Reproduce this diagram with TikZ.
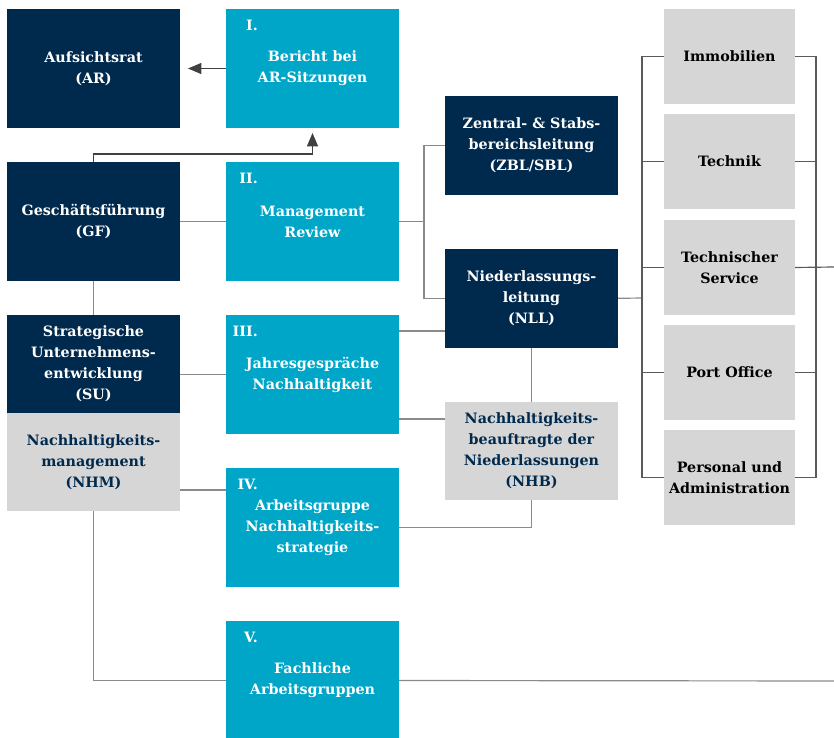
\documentclass[tikz,border=0pt]{standalone}
\usepackage{fontspec}
\setmainfont{DejaVu Serif}
\usetikzlibrary{arrows.meta}
\definecolor{navy}{HTML}{002A4D}
\definecolor{petrol}{HTML}{00A6C8}
\definecolor{lightgrey}{HTML}{D6D6D6}
\definecolor{linegrey}{HTML}{8A8A8A}
\definecolor{darkline}{HTML}{5A5A5A}
\definecolor{arrowgrey}{HTML}{404040}
\tikzstyle{box}=[anchor=north west, inner sep=0pt, outer sep=0pt, align=center, minimum width=5.19cm, font=\fontsize{12.2}{17.9}\selectfont\bfseries]
\tikzstyle{board}=[box, fill=navy, text=white, minimum height=3.57cm]
\tikzstyle{unitbox}=[box, fill=navy, text=white, minimum height=2.96cm]
\tikzstyle{forum}=[box, fill=petrol, text=white, minimum height=3.57cm]
\tikzstyle{staff}=[box, fill=lightgrey, text=navy, minimum height=2.94cm]
\tikzstyle{dept}=[box, fill=lightgrey, text=black, minimum width=3.93cm, minimum height=2.85cm]
\tikzstyle{numeral}=[anchor=north east, inner sep=0pt, text=white, font=\fontsize{12.2}{17.9}\selectfont\bfseries]
\tikzstyle{link}=[linegrey, line width=1pt]
\tikzstyle{deptlink}=[darkline, line width=1pt]
\tikzstyle{report}=[arrowgrey, line width=1pt, -{Triangle[length=0.4cm, width=0.33cm]}]

\begin{document}
\begin{tikzpicture}[x=0.03cm, y=-0.03cm]
  \useasboundingbox (0,0) rectangle (834,738);

  % left column
  \node[board] (AR) at (7,9) {Aufsichtsrat\\(AR)};
  \node[board] (GF) at (7,162) {Geschäftsführung\\(GF)};
  \node[unitbox, minimum height=2.94cm] (SU) at (7,315) {Strategische\\Unternehmens-\\entwicklung\\(SU)};
  \node[staff] (NHM) at (7,413) {Nachhaltigkeits-\\management\\(NHM)};

  % forums
  \node[forum] (I) at (226,9) {Bericht bei\\AR-Sitzungen};
  \node[forum] (II) at (226,162) {Management\\Review};
  \node[forum] (III) at (226,315) {Jahresgespräche\\Nachhaltigkeit};
  \node[forum] (IV) at (226,468) {Arbeitsgruppe\\Nachhaltigkeits-\\strategie};
  \node[forum] (V) at (226,621) {Fachliche\\Arbeitsgruppen};
  \node[numeral] (nI) at ([xshift=0.96cm, yshift=-0.33cm]I.north west) {I.};
  \node[numeral] (nII) at ([xshift=0.96cm, yshift=-0.33cm]II.north west) {II.};
  \node[numeral] (nIII) at ([xshift=0.96cm, yshift=-0.33cm]III.north west) {III.};
  \node[numeral] (nIV) at ([xshift=0.96cm, yshift=-0.33cm]IV.north west) {IV.};
  \node[numeral] (nV) at ([xshift=0.96cm, yshift=-0.33cm]V.north west) {V.};

  % management
  \node[unitbox] (ZBL) at (445,96) {Zentral- \& Stabs-\\bereichsleitung\\(ZBL/SBL)};
  \node[unitbox] (NLL) at (445,249) {Niederlassungs-\\leitung\\(NLL)};
  \node[staff] (NHB) at (445,402) {Nachhaltigkeits-\\beauftragte der\\Niederlassungen\\(NHB)};

  % departments
  \node[dept] (imm) at (664,9) {Immobilien};
  \node[dept] (tec) at (664,114) {Technik};
  \node[dept] (ts) at (664,220) {Technischer\\Service};
  \node[dept] (po) at (664,325) {Port Office};
  \node[dept] (pa) at (664,430) {Personal und\\Administration};

  % connectors
  \draw[report, shorten >=0.24cm] (I.west) -- (AR.east);
  \draw[report, shorten >=0.15cm] (GF.north) -- ++(0,-8) -| (I.south);
  \draw[link] (GF.east) -- (II.west);
  \draw[link] (GF.south) -- (SU.north);
  \draw[link] (III.west) -- (III.west -| SU.east);
  \draw[link] ([yshift=-0.66cm]IV.north west) -- ([yshift=-0.66cm]IV.north west -| NHM.east);
  \draw[link] (NHM.south) |- (V.west);
  \coordinate (eV) at (834,681);
  \draw[link] (V.east) -- (eV);

  \path (II.east) ++(25,0) coordinate (jZ);
  \draw[link] (II.east) -- (jZ);
  \draw[link] (ZBL.west) -| (jZ) |- (NLL.west);
  \draw[link] ([yshift=-0.48cm]III.north east) -- ([yshift=-0.48cm]III.north east -| NLL.west);
  \draw[link] ([yshift=0.45cm]III.south east) -- ([yshift=0.45cm]III.south east -| NHB.west);
  \draw[link] (NLL.south) -- (NHB.north);
  \draw[link] (IV.east) -| (NHB.south);

  \coordinate (jL) at (642,298);
  \coordinate (jR) at (816,267);
  \coordinate (eR) at (834,267);
  \draw[link] (NLL.east) -- (jL);
  \foreach \d in {imm,tec,ts,po,pa}
    \draw[deptlink] (\d.west) -| (jL) (\d.east) -| (jR);
  \draw[deptlink] (ts.east) -- (eR);
\end{tikzpicture}
\end{document}
